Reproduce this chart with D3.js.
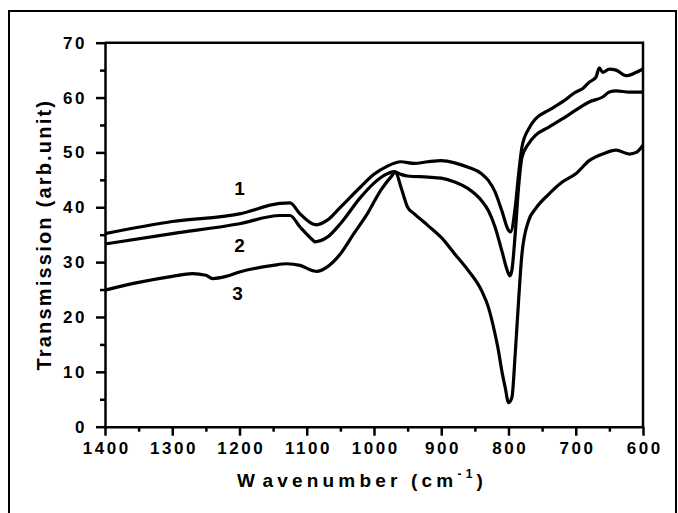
<!DOCTYPE html>
<html>
<head>
<meta charset="utf-8">
<script src="https://cdn.jsdelivr.net/npm/d3@7/dist/d3.min.js"></script>
<style>
  body { margin:0; background:#fff; }
  text { font-family: "Liberation Sans", Arial, sans-serif; font-weight:bold; fill:#000; }
</style>
</head>
<body>
<svg id="svgelement" width="678" height="513"></svg>
<script>
// wavenumber (cm-1) and transmission
var wave1 = [1400,1300,1200,1140,1125,1110,1090,1085,1070,1050,1020,1000,980,960,940,920,900,880,860,840,830,820,810,800,797,790,785,780,770,760,740,720,700,690,680,670,665,660,650,640,625,610,600];
var curve1 = [35.2,37.4,38.8,40.7,40.8,38.8,36.9,36.8,37.6,40,43.7,46,47.5,48.3,48,48.3,48.5,48.1,47.3,46.1,44.9,42.8,39.4,35.8,35.5,40,46,51,54.3,56.1,57.7,59.2,61,61.6,62.8,63.7,65.4,64.6,65.2,65,64,64.6,65.2];

var wave2 = [1400,1300,1200,1140,1125,1110,1090,1088,1070,1050,1020,1000,985,970,960,950,920,900,880,860,840,830,820,810,800,798,795,790,785,780,770,760,740,720,700,680,660,650,640,620,600];
var curve2 = [33.3,35.2,37,38.5,38.5,36.4,33.9,33.7,34.5,37,41.8,44.4,45.8,46.5,46,45.7,45.5,45.3,44.6,43.4,41.2,39.4,36.4,32.1,27.9,27.5,28.5,35.2,43.7,49.1,51.6,53.1,54.6,56.1,57.7,59.2,60.1,61,61.2,61,61];

var wave3 = [1400,1350,1300,1270,1250,1240,1220,1200,1150,1130,1110,1090,1085,1070,1050,1030,1010,990,975,968,960,950,940,920,900,880,860,840,830,820,815,810,805,800,795,790,785,780,770,760,740,720,700,680,660,640,620,610,600];
var curve3 = [24.9,26.3,27.4,27.9,27.6,27,27.4,28.2,29.4,29.7,29.4,28.4,28.3,29.1,31.5,35.2,38.8,43.1,45.5,46.4,43.7,40,38.8,36.7,34.5,31.5,28.5,24.8,21.8,16.9,13.9,10.2,7.2,4.4,5.3,13.3,23,31.5,37.6,39.7,42.4,44.6,46.1,48.5,49.7,50.4,49.7,50,51.3];

var seriesNames = ["1","2","3"];
var labelWave = [1200,1200,1203];
var labelValue = [42.3,31.8,23.1];

var xMajor = [1400,1300,1200,1100,1000,900,800,700,600];
var xMinor = [1350,1250,1150,1050,950,850,750,650];
var yMajor = [0,10,20,30,40,50,60,70];
var yMinor = [5,15,25,35,45,55,65];

var svg = d3.select("#svgelement");
var pLeft = 105, pRight = 643, pTop = 42.7, pBottom = 426.7;

var x = d3.scaleLinear().domain([1400,600]).range([pLeft,pRight]);
var y = d3.scaleLinear().domain([0,70]).range([pBottom,pTop]);

// outer frame
svg.append("rect").attr("x",9).attr("y",11).attr("width",667).attr("height",520)
	.attr("fill","none").attr("stroke","#000").attr("stroke-width",2);

// top and right frame of plot
svg.append("path")
	.attr("d","M"+pLeft+","+pTop+"H"+pRight+"V"+pBottom)
	.attr("fill","none").attr("stroke","#000").attr("stroke-width",2.5);

var gx = svg.append("g").attr("transform","translate(0,"+pBottom+")")
	.call(d3.axisBottom(x).tickValues(xMajor).tickFormat(d3.format("d"))
		.tickSize(9).tickPadding(6).tickSizeOuter(0));
svg.append("g").attr("transform","translate(0,"+pBottom+")")
	.call(d3.axisBottom(x).tickValues(xMinor).tickSize(5).tickFormat("").tickSizeOuter(0))
	.select(".domain").remove();
var gy = svg.append("g").attr("transform","translate("+pLeft+",0)")
	.call(d3.axisLeft(y).tickValues(yMajor).tickFormat(d3.format("d"))
		.tickSize(9).tickPadding(9).tickSizeOuter(0));
svg.append("g").attr("transform","translate("+pLeft+",0)")
	.call(d3.axisLeft(y).tickValues(yMinor).tickSize(5).tickFormat("").tickSizeOuter(0))
	.select(".domain").remove();

svg.selectAll(".domain, .tick line").attr("stroke","#000").attr("stroke-width",2.5);
svg.selectAll(".tick text").attr("font-family",null).attr("font-size",17)
	.style("letter-spacing","2.5px");
gx.selectAll(".tick text").attr("dx","1.25px");

var line = d3.line().x(function(d){return x(d[0]);}).y(function(d){return y(d[1]);})
	.curve(d3.curveMonotoneX);

[[wave1,curve1],[wave2,curve2],[wave3,curve3]].forEach(function(s){
	svg.append("path")
		.datum(d3.zip(s[0],s[1]))
		.attr("d",line)
		.attr("fill","none").attr("stroke","#000").attr("stroke-width",3.2)
		.attr("stroke-linejoin","round");
});

svg.selectAll(".slabel").data(seriesNames).enter().append("text")
	.attr("class","slabel")
	.attr("x",function(d,i){return x(labelWave[i]);})
	.attr("y",function(d,i){return y(labelValue[i]);})
	.attr("text-anchor","middle").attr("font-size",19)
	.text(function(d){return d;});

// axis titles
var xt = svg.append("text").attr("x",362).attr("y",487).attr("text-anchor","middle")
	.attr("font-size",19).style("letter-spacing","4.2px");
xt.append("tspan").text("W");
xt.append("tspan").attr("dx",4).text("avenumber (cm");
xt.append("tspan").attr("font-size",12).attr("dy",-9).text("-1");
xt.append("tspan").attr("dy",9).text(")");

svg.append("text")
	.attr("transform","translate(51,"+((pTop+pBottom)/2)+") rotate(-90)")
	.attr("text-anchor","middle").attr("font-size",20).style("letter-spacing","2.2px")
	.text("Transmission (arb.unit)");
</script>
</body>
</html>
